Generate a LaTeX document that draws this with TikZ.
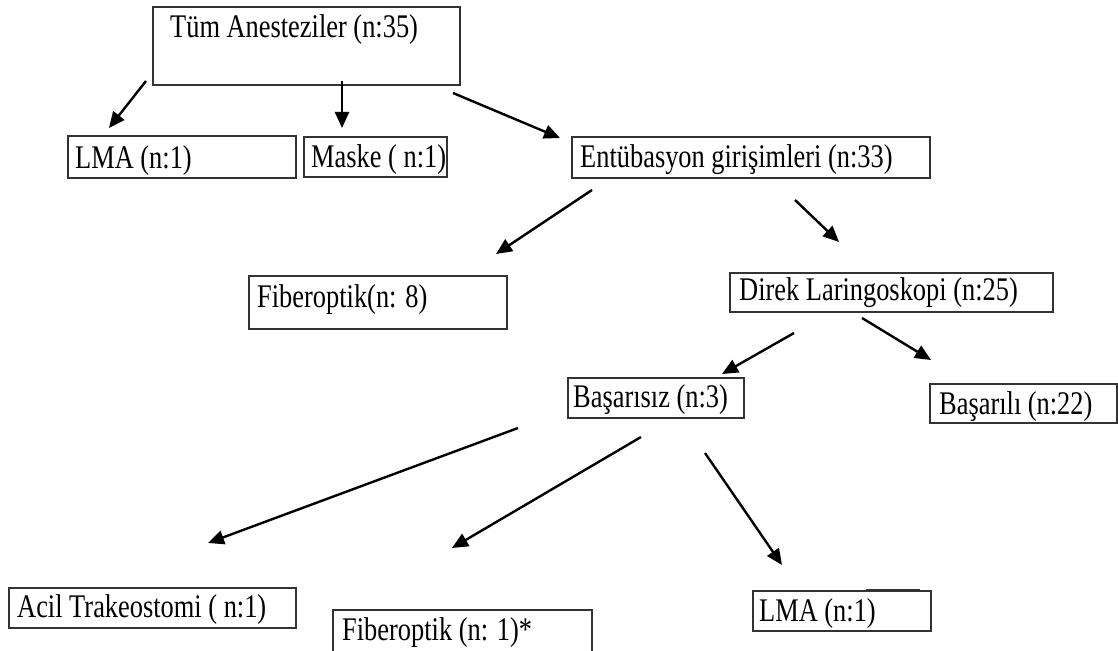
\documentclass[tikz,border=0pt]{standalone}
\usepackage{fontspec}
\setmainfont{Liberation Serif}[FakeStretch=0.8]
\usepackage{tikz}
\usetikzlibrary{arrows.meta,calc}

\begin{document}
\begin{tikzpicture}[
	x=1pt,
	y=-1pt,
	box/.style={
		rectangle,
		draw=black!80,
		line width=1.2pt,
		anchor=north west,
		inner sep=0pt,
		outer sep=0pt
	},
	lbl/.style={
		anchor=base west,
		inner sep=0pt,
		font=\fontsize{33}{36}\selectfont
	},
	arrow/.style={-{Triangle[length=16pt,width=14pt]}, line width=2.4pt}
	]
	\fill[white] (0,0) rectangle (1118,650);
	\clip (0,0) rectangle (1118,650);
	% All anaesthesias and first split
	\node[box, minimum width=307, minimum height=78] (tum) at (153,7) {};
	\node[lbl] (tumtxt) at (170,38) {Tüm Anesteziler (n:35)};
	\node[box, minimum width=228, minimum height=42] (lma1) at (68,136) {};
	\node[lbl] (lma1txt) at (75,168) {LMA (n:1)};
	\node[box, minimum width=143, minimum height=40] (maske) at (304,137) {};
	\node[lbl] (masketxt) at (311,167) {Maske ( n:1)};
	\node[box, minimum width=358, minimum height=41] (ent) at (572,137) {};
	\node[lbl] (enttxt) at (580,167) {Entübasyon girişimleri (n:33)};
	% Intubation attempts
	\node[box, minimum width=258, minimum height=53] (fib8) at (249,276) {};
	\node[lbl] (fib8txt) at (257,307) {Fiberoptik(n: 8)};
	\node[box, minimum width=323, minimum height=39] (direk) at (730,273) {};
	\node[lbl] (direktxt) at (739,300) {Direk Laringoskopi (n:25)};
	% Outcome of direct laryngoscopy
	\node[box, minimum width=176, minimum height=40] (basarisiz) at (568,378) {};
	\node[lbl] (basarisiztxt) at (573,407) {Başarısız (n:3)};
	\node[box, minimum width=187, minimum height=39] (basarili) at (930,384) {};
	\node[lbl] (basarilitxt) at (939,414) {Başarılı (n:22)};
	% Rescue techniques
	\node[box, minimum width=287, minimum height=40] (acil) at (9,588) {};
	\node[lbl] (aciltxt) at (17,617) {Acil Trakeostomi ( n:1)};
	\node[box, minimum width=259, minimum height=50] (fibstar) at (333,610) {};
	\node[lbl] (fibstartxt) at (342,640) {Fiberoptik (n: 1)*};
	\node[box, minimum width=178, minimum height=40] (lma2) at (753,591) {};
	\node[lbl] (lma2txt) at (759,621) {LMA (n:1)};
	\draw[line width=2.4pt, black!80] ($(lma2.north west)+(113,-1)$) -- ($(lma2.north west)+(167,-1)$);
	% Arrows (they stop short of the boxes)
	\draw[arrow] ($(tum.south west)+(-7,-4)$) -- ($(lma1.north west)+(41,-8)$);
	\draw[arrow] ($(tum.south west)+(189,-4)$) -- ($(maske.north west)+(38,-9)$);
	\draw[arrow] ($(tum.south east)+(-7,8)$) -- ($(ent.north west)+(-12,1)$);
	\draw[arrow] ($(ent.south west)+(20,12)$) -- ($(fib8.north east)+(-11,-22)$);
	\draw[arrow] ($(ent.south west)+(223,22)$) -- ($(direk.north west)+(109,-31)$);
	\draw[arrow] ($(direk.south west)+(64,21)$) -- ($(basarisiz.north east)+(-22,-4)$);
	\draw[arrow] ($(direk.south west)+(132,6)$) -- ($(basarili.north west)+(1,-24)$);
	\draw[arrow] ($(basarisiz.south west)+(-50,10)$) -- ($(acil.north west)+(199,-45)$);
	\draw[arrow] ($(basarisiz.south west)+(73,19)$) -- ($(fibstar.north west)+(119,-62)$);
	\draw[arrow] ($(basarisiz.south west)+(137,35)$) -- ($(lma2.north west)+(29,-26)$);
\end{tikzpicture}
\end{document}
